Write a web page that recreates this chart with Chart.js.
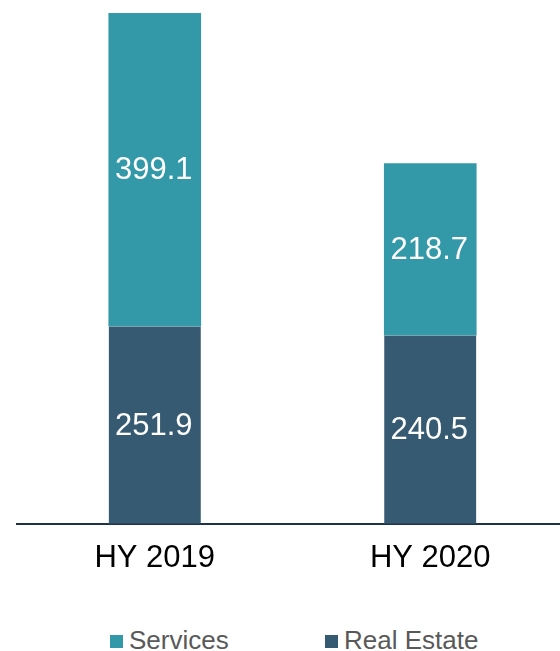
<!DOCTYPE html>
<html>
<head>
<meta charset="utf-8">
<script src="https://cdn.jsdelivr.net/npm/chart.js@4"></script>
<style>
  html, body { margin: 0; padding: 0; background: #fff; overflow: hidden; }
  #wrap { position: relative; width: 568px; height: 651px; }
  #chartBox { position: absolute; left: 0; top: 0; width: 568px; height: 593px; }
  #legend { position: absolute; left: 0; top: 623px; width: 560px; height: 34px;
            font-family: "Liberation Sans", Arial, sans-serif; font-size: 26px; color: #595959; }
  .item { position: absolute; top: 0; line-height: 34px; white-space: nowrap; }
  .swatch { display: inline-block; width: 13px; height: 13px; margin-right: 6px; vertical-align: 1px; }
</style>
</head>
<body>
<div id="wrap">
  <div id="chartBox"><canvas id="barChart"></canvas></div>
  <div id="legend"></div>
</div>
<script>
// data
const categories = ['HY 2019', 'HY 2020'];
const realEstate = [251.9, 240.5];
const services = [399.1, 218.7];
const yMax = 651;

const teal = '#3399a8';
const navy = '#365a72';
const fontFamily = '"Liberation Sans", Arial, sans-serif';

// draws the value in the middle of each bar segment
const valueLabels = {
    id: 'valueLabels',
    afterDatasetsDraw(chart) {
        const ctx = chart.ctx;
        ctx.save();
        ctx.fillStyle = '#ffffff';
        ctx.font = '31px ' + fontFamily;
        ctx.textAlign = 'center';
        ctx.textBaseline = 'middle';
        chart.data.datasets.forEach((ds, i) => {
            chart.getDatasetMeta(i).data.forEach((bar, j) => {
                const mid = (bar.y + bar.base) / 2;
                ctx.fillText(ds.data[j].toFixed(1), bar.x - 1, mid + 1);
            });
        });
        ctx.restore();
    }
};

const ctx = document.getElementById('barChart').getContext('2d');
const chart = new Chart(ctx, {
    type: 'bar',
    data: {
        labels: categories,
        datasets: [
            {
                label: 'Real Estate',
                data: realEstate,
                backgroundColor: navy,
                borderColor: '#8fbcc6',
                borderWidth: { top: 1, left: 0, right: 0, bottom: 0 },
                borderSkipped: false,
                barThickness: 92
            },
            {
                label: 'Services',
                data: services,
                backgroundColor: teal,
                borderWidth: 0,
                barThickness: 92
            }
        ]
    },
    options: {
        responsive: true,
        maintainAspectRatio: false,
        animation: false,
        layout: { padding: { left: 17, right: 0, top: 13, bottom: 0 } },
        plugins: {
            tooltip: { enabled: false },
            legend: { display: false }
        },
        scales: {
            x: {
                stacked: true,
                grid: { display: false, drawTicks: false },
                border: { display: true, color: '#1f3344', width: 2 },
                ticks: {
                    color: '#000000',
                    padding: 16,
                    font: { family: fontFamily, size: 31 }
                }
            },
            y: {
                stacked: true,
                display: false,
                min: 0,
                max: yMax
            }
        }
    },
    plugins: [valueLabels]
});

// legend below the chart, Services first
const legendItems = [
    { label: 'Services', color: teal, left: 110 },
    { label: 'Real Estate', color: navy, left: 325 }
];
const legendEl = document.getElementById('legend');
legendItems.forEach(item => {
    const span = document.createElement('span');
    span.className = 'item';
    span.style.left = item.left + 'px';
    const sw = document.createElement('span');
    sw.className = 'swatch';
    sw.style.background = item.color;
    span.appendChild(sw);
    span.appendChild(document.createTextNode(item.label));
    legendEl.appendChild(span);
});
</script>
</body>
</html>
